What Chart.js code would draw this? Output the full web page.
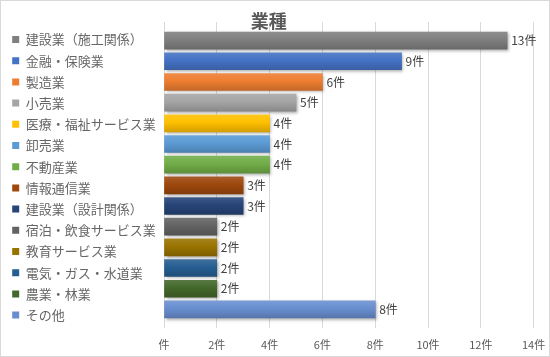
<!DOCTYPE html>
<html>
<head>
<meta charset="utf-8">
<script src="https://cdn.jsdelivr.net/npm/chart.js@4/dist/chart.umd.min.js"></script>
<style>
  html, body { margin: 0; padding: 0; background: #ffffff; }
  #wrap { width: 550px; height: 357px; position: relative; }
</style>
</head>
<body>
<div id="wrap"><canvas id="c" width="550" height="357"></canvas></div>
<script>
const titleText = '業種';
const categories = [
  '建設業（施工関係）', '金融・保険業', '製造業', '小売業', '医療・福祉サービス業',
  '卸売業', '不動産業', '情報通信業', '建設業（設計関係）', '宿泊・飲食サービス業',
  '教育サービス業', '電気・ガス・水道業', '農業・林業', 'その他'
];
const values = [13, 9, 6, 5, 4, 4, 4, 3, 3, 2, 2, 2, 2, 8];
const barColors = [
  '#7f7f7f', '#4472c4', '#ed7d31', '#a5a5a5', '#ffc000',
  '#5b9bd5', '#70ad47', '#9e480e', '#264478', '#636363',
  '#997300', '#255e91', '#43682b', '#698ed0'
];
const unit = '件';
const axisMin = 0, axisMax = 14, axisStep = 2;

const fontFamily = "'Noto Sans CJK JP', 'Noto Sans', sans-serif";
const textColor = '#595959';

function shade(hex, f) {
  const n = parseInt(hex.slice(1), 16);
  let r = (n >> 16) & 255, g = (n >> 8) & 255, b = n & 255;
  if (f >= 0) { r += (255 - r) * f; g += (255 - g) * f; b += (255 - b) * f; }
  else { r *= (1 + f); g *= (1 + f); b *= (1 + f); }
  return 'rgb(' + Math.round(r) + ',' + Math.round(g) + ',' + Math.round(b) + ')';
}

const points = values.map((v, i) => ({ x: v, y: i }));

const borderPlugin = {
  id: 'chartBorder',
  beforeDraw(chart) {
    const ctx = chart.ctx;
    ctx.save();
    ctx.fillStyle = '#ffffff';
    ctx.fillRect(0, 0, chart.width, chart.height);
    ctx.strokeStyle = '#d9d9d9';
    ctx.lineWidth = 1;
    ctx.strokeRect(0.5, 0.5, chart.width - 1, chart.height - 1);
    ctx.restore();
  }
};

const shadowPlugin = {
  id: 'barShadow',
  beforeDatasetDraw(chart) {
    const ctx = chart.ctx;
    ctx.save();
    ctx.shadowColor = 'rgba(0,0,0,0.35)';
    ctx.shadowBlur = 3;
    ctx.shadowOffsetX = 1.5;
    ctx.shadowOffsetY = 1.5;
  },
  afterDatasetDraw(chart) {
    chart.ctx.restore();
  }
};

const valueLabelPlugin = {
  id: 'valueLabels',
  afterDatasetsDraw(chart) {
    const ctx = chart.ctx;
    const meta = chart.getDatasetMeta(0);
    ctx.save();
    ctx.font = '12px ' + fontFamily;
    ctx.fillStyle = '#404040';
    ctx.textAlign = 'left';
    ctx.textBaseline = 'middle';
    meta.data.forEach((el, i) => {
      ctx.fillText(values[i] + unit, el.x + 4, el.y);
    });
    ctx.restore();
  }
};

new Chart(document.getElementById('c'), {
  type: 'bar',
  data: {
    datasets: [{
      data: points,
      backgroundColor: (ctx) => {
        const c = barColors[ctx.dataIndex % barColors.length];
        const chart = ctx.chart;
        const ys = chart.scales && chart.scales.y;
        if (!chart.chartArea || !ys || ctx.type !== 'data') return c;
        const yc = ys.getPixelForValue(ctx.dataIndex);
        const g = chart.ctx.createLinearGradient(0, yc - 9, 0, yc + 9);
        g.addColorStop(0, shade(c, 0.12));
        g.addColorStop(0.45, c);
        g.addColorStop(1, shade(c, -0.18));
        return g;
      },
      borderWidth: 0,
      barThickness: 17
    }]
  },
  options: {
    indexAxis: 'y',
    responsive: false,
    animation: false,
    events: [],
    layout: { padding: { left: 4, right: 16.4, top: 0, bottom: 5.4 } },
    scales: {
      x: {
        type: 'linear',
        min: axisMin,
        max: axisMax,
        position: 'bottom',
        offset: false,
        grid: { color: '#d9d9d9', lineWidth: 1, drawTicks: false, offset: false },
        border: { display: false },
        ticks: {
          stepSize: axisStep,
          padding: 10.4,
          color: textColor,
          font: { family: fontFamily, size: 11 },
          callback: (v) => (v === 0 ? '' : v) + unit
        },
        afterFit: (scale) => {
          scale.height = 23.6;
          scale.paddingLeft = 0;
          scale.paddingRight = 0;
        }
      },
      y: {
        type: 'linear',
        min: -0.9,
        max: categories.length - 1 + 0.9,
        reverse: true,
        offset: false,
        display: true,
        grid: { display: false, drawTicks: false, offset: false },
        border: { display: false },
        ticks: { display: false, stepSize: 1 },
        afterFit: (scale) => { scale.width = 8; }
      }
    },
    plugins: {
      title: {
        display: true,
        text: titleText,
        color: textColor,
        font: { family: fontFamily, size: 18, weight: 'bold' },
        padding: { top: 10.2, bottom: -9.8 }
      },
      legend: {
        display: true,
        position: 'left',
        align: 'start',
        maxWidth: 152,
        title: {
          display: true,
          text: '',
          font: { size: 1 },
          padding: { top: 23.6, bottom: 0 }
        },
        labels: {
          boxWidth: 7,
          boxHeight: 7,
          padding: 8.2,
          color: textColor,
          font: { family: fontFamily, size: 13 },
          generateLabels: () => categories.map((name, i) => ({
            text: name,
            fillStyle: barColors[i],
            strokeStyle: barColors[i],
            lineWidth: 0,
            hidden: false,
            index: i,
            datasetIndex: 0
          }))
        }
      },
      tooltip: { enabled: false }
    }
  },
  plugins: [borderPlugin, shadowPlugin, valueLabelPlugin]
});
</script>
</body>
</html>
